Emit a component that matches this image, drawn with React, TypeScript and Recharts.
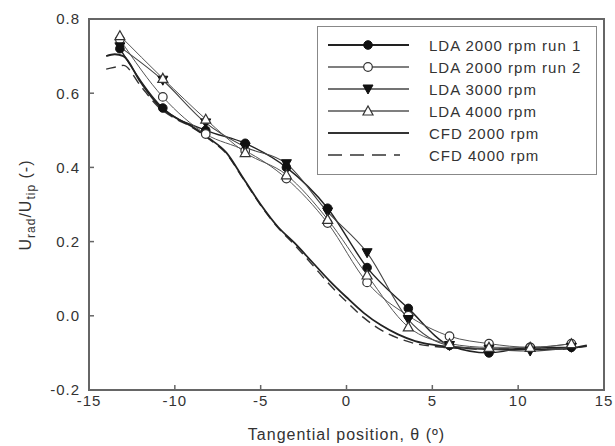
import { LineChart, Line, XAxis, YAxis, Legend, ReferenceArea } from 'recharts'

// LDA measurement positions (deg)
const ldaPositions = [-13.2, -10.7, -8.2, -5.9, -3.5, -1.1, 1.2, 3.6, 6.0, 8.3, 10.7, 13.1]
const lda2000run1 = [0.72, 0.56, 0.5, 0.465, 0.4, 0.29, 0.13, 0.02, -0.08, -0.1, -0.085, -0.085]
const lda2000run2 = [0.745, 0.59, 0.49, 0.445, 0.37, 0.25, 0.09, 0.0, -0.055, -0.075, -0.085, -0.075]
const lda3000 = [0.725, 0.635, 0.52, 0.455, 0.41, 0.28, 0.17, -0.01, -0.08, -0.09, -0.095, -0.085]
const lda4000 = [0.755, 0.64, 0.53, 0.44, 0.38, 0.26, 0.11, -0.03, -0.075, -0.085, -0.085, -0.075]

// CFD curves
const cfdPositions = [-14, -13.5, -13, -12, -11, -10, -9, -8, -7, -6, -5, -4, -3, -2, -1, 0, 1, 2, 3, 4, 5, 6, 7, 8, 9, 10, 11, 12, 13, 14]
const cfd2000 = [0.7, 0.705, 0.7, 0.63, 0.57, 0.535, 0.51, 0.478, 0.44, 0.37, 0.3, 0.24, 0.195, 0.145, 0.095, 0.05, 0.008, -0.025, -0.05, -0.068, -0.078, -0.084, -0.087, -0.089, -0.09, -0.09, -0.09, -0.09, -0.088, -0.08]
const cfd4000 = [0.665, 0.67, 0.675, 0.62, 0.565, 0.532, 0.508, 0.476, 0.437, 0.368, 0.298, 0.238, 0.19, 0.138, 0.085, 0.038, -0.005, -0.038, -0.06, -0.075, -0.082, -0.086, -0.088, -0.09, -0.09, -0.09, -0.09, -0.09, -0.088, -0.082]

const xTicks = [-15, -10, -5, 0, 5, 10, 15]
const yTicks = [-0.2, 0, 0.2, 0.4, 0.6, 0.8]

const toPoints = (xs: number[], ys: number[]) => xs.map((x, i) => ({ x, y: ys[i] }))

const FONT = '"Liberation Sans", Arial, sans-serif'
const TEXT = '#333'

type MarkerKind = 'filledCircle' | 'openCircle' | 'filledDown' | 'openUp'

function Marker({ cx, cy, kind }: { cx: number; cy: number; kind: MarkerKind }) {
  if (cx == null || cy == null) return null
  if (kind === 'filledCircle') return <circle cx={cx} cy={cy} r={4.3} fill="#111" stroke="#111" />
  if (kind === 'openCircle') return <circle cx={cx} cy={cy} r={4.3} fill="#fff" stroke="#333" strokeWidth={1.2} />
  if (kind === 'filledDown')
    return <path d={`M${cx - 5},${cy - 4} L${cx + 5},${cy - 4} L${cx},${cy + 5} Z`} fill="#111" stroke="#111" />
  return <path d={`M${cx - 5},${cy + 4} L${cx + 5},${cy + 4} L${cx},${cy - 5} Z`} fill="#fff" stroke="#333" strokeWidth={1.2} />
}

const ldaSeries = [
  { name: 'LDA 2000 rpm run 1', values: lda2000run1, kind: 'filledCircle' as MarkerKind, color: '#222', width: 1.4 },
  { name: 'LDA 2000 rpm run 2', values: lda2000run2, kind: 'openCircle' as MarkerKind, color: '#555', width: 1 },
  { name: 'LDA 3000 rpm', values: lda3000, kind: 'filledDown' as MarkerKind, color: '#444', width: 1.1 },
  { name: 'LDA 4000 rpm', values: lda4000, kind: 'openUp' as MarkerKind, color: '#555', width: 1 },
]

function LegendBox() {
  const rows = [
    ...ldaSeries.map((s) => ({ name: s.name, kind: s.kind as MarkerKind | null, color: s.color, width: s.width + 0.6, dash: undefined as string | undefined })),
    { name: 'CFD 2000 rpm', kind: null, color: '#333', width: 2, dash: undefined },
    { name: 'CFD 4000 rpm', kind: null, color: '#333', width: 1.6, dash: '14 8' },
  ]
  return (
    <div
      style={{
        width: 280,
        height: 149,
        boxSizing: 'border-box',
        border: '1.5px solid #888',
        background: '#fff',
        paddingTop: 7,
      }}
    >
      {rows.map((r) => (
        <div key={r.name} style={{ display: 'flex', alignItems: 'center', height: 22 }}>
          <svg width={111} height={22} style={{ flex: 'none' }}>
            <line x1={10} x2={r.dash ? 82 : 91} y1={11} y2={11} stroke={r.color} strokeWidth={r.width} strokeDasharray={r.dash} />
            {r.kind && <Marker cx={50} cy={11} kind={r.kind} />}
          </svg>
          <span style={{ fontFamily: FONT, fontSize: 15, letterSpacing: 1, color: TEXT, whiteSpace: 'nowrap' }}>{r.name}</span>
        </div>
      ))}
    </div>
  )
}

function YLabel() {
  return (
    <text x={31} y={205} transform="rotate(-90, 31, 205)" textAnchor="middle" fontFamily={FONT} fontSize={16} fill={TEXT} letterSpacing={1}>
      <tspan>U</tspan>
      <tspan dy={4} fontSize={12}>rad</tspan>
      <tspan dy={-4}>/U</tspan>
      <tspan dy={4} fontSize={12}>tip</tspan>
      <tspan dy={-4}> (-)</tspan>
    </text>
  )
}

export default function App() {
  const tickStyle = { fontSize: 15, fill: TEXT, fontFamily: FONT, letterSpacing: 1 }
  return (
    <div style={{ position: 'absolute', left: 0, top: 0, background: '#fff' }}>
      <LineChart width={615} height={446} margin={{ top: 19, right: 11, bottom: 0, left: 0 }}>
        <XAxis
          type="number"
          dataKey="x"
          domain={[-15, 15]}
          ticks={xTicks}
          allowDataOverflow
          axisLine={false}
          tickSize={-5}
          tickMargin={10}
          tickLine={{ stroke: '#666', strokeWidth: 1.5 }}
          tick={tickStyle}
          height={56}
          label={{ value: 'Tangential position, θ (º)', position: 'insideBottom', offset: 6, style: { fontSize: 16, fill: TEXT, fontFamily: FONT, letterSpacing: 1 } }}
        />
        <YAxis
          type="number"
          domain={[-0.2, 0.8]}
          ticks={yTicks}
          allowDataOverflow
          axisLine={false}
          tickSize={-5}
          tickMargin={14}
          tickLine={{ stroke: '#666', strokeWidth: 1.5 }}
          tick={tickStyle}
          tickFormatter={(v: number) => v.toFixed(1)}
          width={89}
          label={{ content: () => <YLabel /> }}
        />
        <ReferenceArea x1={-15} x2={15} y1={-0.2} y2={0.8} fill="none" fillOpacity={0} stroke="#666" strokeWidth={2} ifOverflow="visible" />
        <Line
          data={toPoints(cfdPositions, cfd4000)}
          dataKey="y"
          type="monotone"
          stroke="#333"
          strokeWidth={1.4}
          strokeDasharray="10 6"
          dot={false}
          isAnimationActive={false}
        />
        <Line
          data={toPoints(cfdPositions, cfd2000)}
          dataKey="y"
          type="monotone"
          stroke="#222"
          strokeWidth={1.8}
          dot={false}
          isAnimationActive={false}
        />
        {ldaSeries.map((s) => (
          <Line
            key={s.name}
            data={toPoints(ldaPositions, s.values)}
            dataKey="y"
            name={s.name}
            type="monotone"
            stroke={s.color}
            strokeWidth={s.width}
            dot={(p: any) => <Marker key={`${s.name}-${p.index}`} cx={p.cx} cy={p.cy} kind={s.kind} />}
            isAnimationActive={false}
          />
        ))}
        <Legend
          layout="horizontal"
          verticalAlign="middle"
          align="center"
          wrapperStyle={{ left: 317, top: 26, width: 280, height: 149 }}
          content={() => <LegendBox />}
        />
      </LineChart>
    </div>
  )
}
